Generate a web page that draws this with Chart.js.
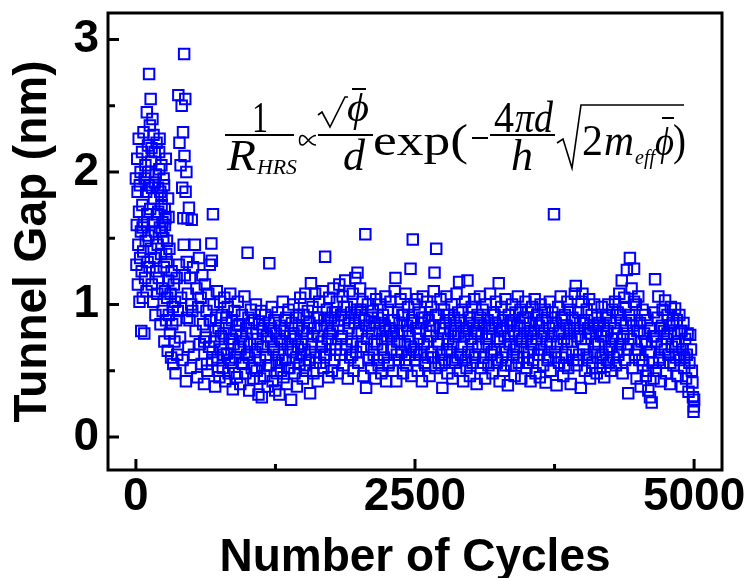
<!DOCTYPE html>
<html>
<head>
<meta charset="utf-8">
<script src="https://cdn.jsdelivr.net/npm/chart.js@4.4.1/dist/chart.umd.min.js"></script>
<style>
  body { margin: 0; background: #fff; }
  #wrap { width: 749px; height: 578px; position: relative; }
</style>
</head>
<body>
<div id="wrap"><canvas id="gapChart"></canvas></div>
<script>
// early cycles: large, scattered gaps
const earlyCycles = [0,5,8,12,15,18,22,25,28,32,35,38,42,45,48,52,55,58,62,65,68,72,75,78,82,85,88,92,95,98,
  102,105,108,112,115,118,122,125,128,132,135,138,142,145,148,152,155,158,162,165,168,172,175,178,182,185,188,192,195,198,
  205,210,215,220,225,230,235,240,245,250,255,260,265,270,275,280,285,290,295,300,305,310,315,320,325,330,335,340,345,350,
  355,360,365,370,375,380,385,390,395,400,405,410,415,418,422,425,428,432,435,438,442,445,448,452,455,458,462,465,470,475,
  480,485,490,495,500,60,110,140,170,200,230,260,
  208,218,228,238,248,258,268,278,288,212,232,252,272,292];
const earlyGap = [1.95,1.30,1.60,2.10,1.85,1.15,1.45,2.25,1.70,1.02,1.90,1.35,2.00,1.55,0.80,1.25,2.15,1.75,1.05,1.40,2.30,1.62,0.78,1.95,1.20,2.05,1.48,1.85,1.10,2.45,
  1.68,1.32,2.20,1.52,1.90,2.74,1.28,2.35,1.72,2.55,1.42,2.08,1.15,1.88,2.40,1.62,1.02,2.28,1.80,1.35,2.15,1.55,0.92,1.98,1.25,2.22,1.68,1.08,1.45,1.88,
  1.20,2.02,1.58,0.85,1.38,1.75,1.12,0.95,1.50,1.28,0.72,1.10,1.65,0.88,1.32,1.05,0.65,1.18,0.92,1.42,0.78,1.08,0.60,1.25,0.85,0.98,0.55,1.15,0.72,1.02,
  0.48,0.88,1.20,0.62,0.95,2.58,1.30,2.22,0.75,2.05,1.05,2.50,1.88,0.58,2.30,1.65,1.45,2.89,2.12,1.22,2.55,1.85,0.42,2.00,1.32,0.90,1.65,1.08,0.68,1.73,
  0.88,1.20,0.52,1.00,1.64,1.58,2.00,2.18,1.92,1.70,1.82,1.60,
  2.15,1.85,2.05,1.62,1.95,1.72,2.10,1.48,1.80,2.25,1.55,1.90,1.38,1.66];

// cycles 500 - 2500
const midCycles = [505,512,520,528,535,542,550,558,565,572,580,588,595,602,610,618,625,632,640,648,655,662,670,676,680,684,690,696,703,710,
  718,725,732,740,748,755,762,770,778,785,792,800,808,815,822,830,838,845,852,860,868,875,882,890,898,905,912,920,928,935,
  942,950,958,965,972,980,988,995,1000,1008,1015,1022,1030,1038,1045,1052,1060,1068,1075,1082,1090,1098,1105,1112,1120,1128,1135,1142,1150,1158,
  1165,1172,1180,1188,1195,1202,1210,1218,1225,1232,1240,1248,1255,1262,1270,1278,1285,1292,1300,1308,1315,1322,1330,1338,1345,1352,1360,1368,1375,1382,
  1390,1398,1405,1412,1420,1428,1435,1442,1450,1458,1465,1472,1480,1488,1495,1502,1510,1518,1525,1532,1540,1548,1555,1560,1568,1575,1582,1590,1598,1605,
  1612,1620,1628,1635,1642,1650,1658,1665,1672,1680,1688,1695,1702,1710,1718,1725,1732,1740,1748,1755,1762,1770,1778,1785,1792,1800,1808,1815,1822,1830,
  1838,1845,1852,1860,1868,1875,1882,1890,1898,1905,1912,1920,1928,1935,1942,1950,1958,1965,1972,1980,1985,1992,2000,2008,2015,2022,2030,2038,2045,2055,
  2062,2070,2078,2085,2092,2100,2108,2115,2122,2130,2138,2145,2152,2160,2168,2175,2182,2190,2198,2205,2212,2220,2228,2235,2242,2250,2258,2265,2272,2280,
  2288,2295,2302,2310,2318,2325,2332,2340,2348,2355,2362,2370,2378,2385,2392,2400,2408,2415,2422,2430,2438,2445,2452,2460,2468,2475,2480,2488,2495];
const midGap = [0.95,1.28,0.62,1.45,0.80,1.12,0.45,0.98,1.35,0.70,1.05,0.55,1.22,0.85,0.40,1.15,0.75,0.95,0.50,1.08,0.68,1.30,0.88,1.46,1.33,0.58,1.68,1.00,0.72,0.38,
  0.90,1.10,0.60,0.82,0.45,1.02,0.66,0.92,0.52,0.78,1.05,0.42,0.86,0.63,0.98,0.48,0.74,1.08,0.56,0.88,0.36,0.70,0.95,0.60,0.80,0.45,1.02,0.68,0.85,0.40,
  0.76,0.92,0.55,0.72,1.06,0.48,0.82,0.62,1.39,0.90,0.35,0.70,0.96,0.52,0.78,0.44,0.88,0.64,1.00,0.50,0.74,0.32,0.85,0.58,0.95,0.30,0.68,0.82,0.46,0.92,
  0.60,0.76,0.38,0.86,1.31,0.54,0.72,0.98,0.42,0.66,0.88,0.35,0.78,0.56,0.94,0.62,0.32,0.84,0.50,0.72,1.02,0.45,0.80,0.58,0.90,0.40,0.70,0.96,0.52,0.76,
  0.28,0.86,0.64,1.00,0.48,0.74,0.90,0.38,0.68,0.84,0.55,1.05,0.62,0.80,0.44,0.92,0.66,1.08,0.50,0.78,0.95,0.58,0.86,0.33,1.16,0.70,0.98,0.48,0.82,1.08,
  0.60,0.90,0.42,0.76,1.02,0.56,0.84,0.68,1.10,0.52,0.88,1.36,0.62,0.96,0.74,0.45,1.05,0.66,0.90,0.50,0.80,1.12,0.58,0.94,0.70,1.02,0.48,0.84,1.15,0.62,
  0.92,0.76,1.06,0.54,0.88,1.18,0.66,0.98,0.44,0.82,1.10,0.60,0.94,0.72,1.08,0.50,0.86,1.20,0.64,0.96,1.24,0.56,0.90,1.12,0.68,0.80,1.02,0.46,0.88,1.53,
  0.37,0.74,1.00,0.58,0.84,1.08,0.52,0.78,0.95,0.62,0.86,0.44,1.04,0.70,0.90,0.54,0.80,1.00,0.48,0.74,0.92,0.60,0.84,1.06,0.42,0.76,0.96,0.56,0.82,1.02,
  0.66,0.88,0.50,0.78,1.10,1.20,0.42,0.72,0.94,0.58,0.86,1.04,0.64,0.80,0.48,0.92,0.70,1.08,0.54,0.84,0.98,0.62,0.76,1.27,0.46,0.88,1.49,0.66,1.00];

// cycles 2500 - 5000
const lateCycles = [2502,2510,2518,2525,2532,2540,2548,2555,2562,2570,2578,2585,2592,2600,2608,2615,2622,2630,2638,2645,2652,2660,2668,2675,2682,2690,2698,2705,2712,2720,
  2728,2735,2745,2752,2760,2768,2775,2782,2790,2798,2805,2812,2820,2828,2835,2842,2850,2858,2865,2872,2880,2888,2895,2902,2910,2918,2925,2932,2940,2948,
  2955,2962,2970,2978,2985,2992,3000,3008,3015,3022,3030,3038,3045,3052,3060,3068,3075,3082,3090,3098,3105,3112,3120,3128,3135,3142,3150,3158,3165,3172,
  3180,3188,3195,3202,3210,3218,3225,3232,3240,3250,3258,3265,3272,3280,3288,3295,3302,3310,3318,3325,3332,3340,3348,3355,3362,3370,3378,3385,3392,3400,
  3408,3415,3422,3430,3438,3445,3452,3460,3468,3475,3482,3490,3498,3505,3512,3520,3528,3535,3542,3550,3558,3565,3572,3580,3588,3595,3602,3610,3618,3625,
  3632,3640,3648,3655,3662,3670,3678,3685,3692,3700,3708,3715,3722,3730,3745,3752,3760,3768,3775,3782,3790,3798,3805,3812,3820,3828,3835,3842,3850,3858,
  3865,3872,3880,3888,3895,3902,3910,3918,3925,3932,3940,3948,3955,3962,3970,3978,3985,3992,4000,4008,4015,4022,4030,4038,4045,4052,4060,4068,4075,4082,
  4090,4098,4105,4112,4120,4128,4135,4142,4150,4158,4165,4172,4180,4188,4195,4202,4210,4218,4225,4232,4240,4248,4255,4262,4270,4278,4285,4292,4300,4308,
  4315,4322,4330,4338,4345,4352,4360,4368,4375,4382,4390,4398,4405,4410,4418,4425,4432,4440,4448,4455,4462,4470,4478,4485,4492,4500,4508,4515,4522,4530,
  4538,4545,4552,4560,4568,4575,4582,4590,4598,4605,4612,4620,4628,4635,4642,4650,4658,4665,4672,4680,4688,4695,4702,4710,4718,4725,4732,4740,4748,4755,
  4762,4770,4778,4785,4792,4800,4808,4815,4822,4830,4838,4845,4852,4860,4868,4875,4882,4890,4898,4905,4912,4920,4928,4935,4942,4950,4958,4965,4972,4980,
  4985,4990,4995,4998,5000];
const lateGap = [0.58,0.82,1.04,0.50,0.74,0.94,0.62,0.86,0.42,1.06,0.70,0.90,0.54,0.80,1.02,0.60,0.88,0.46,0.76,0.98,0.64,0.84,1.10,1.24,0.52,1.42,0.72,0.92,0.56,0.82,
  1.04,0.62,0.37,0.78,0.96,0.58,0.86,1.06,0.48,0.74,0.92,0.64,0.80,1.00,0.44,0.70,0.90,0.56,0.84,1.08,0.60,0.78,1.17,0.50,0.88,0.68,0.96,0.42,0.76,1.02,
  0.58,0.82,1.18,0.64,0.90,0.46,0.74,0.98,0.56,0.84,1.04,0.62,0.80,0.40,0.92,0.68,0.86,1.06,0.52,0.78,0.96,0.60,0.84,0.44,1.00,0.70,0.88,0.54,0.76,1.08,
  0.62,0.82,0.48,0.94,0.66,0.86,1.02,0.56,0.74,1.16,0.42,0.80,0.98,0.60,0.88,0.50,0.76,1.04,0.64,0.84,0.39,0.92,0.70,0.86,0.54,1.00,0.62,0.80,0.46,0.94,
  0.68,0.84,1.06,0.56,0.78,0.96,0.44,0.72,0.90,0.60,0.82,1.02,0.52,0.76,0.94,0.64,0.86,0.42,0.70,0.98,0.58,0.80,1.04,0.48,0.74,0.92,0.62,0.84,0.45,1.00,
  0.66,0.88,0.54,0.78,0.96,0.41,0.72,0.90,0.60,0.82,1.02,0.50,0.76,0.94,1.68,0.64,0.86,0.39,0.70,0.98,0.56,0.80,1.06,0.60,0.88,0.46,0.74,0.92,0.62,0.84,
  1.02,0.52,0.78,0.96,0.40,0.72,0.90,0.58,0.82,1.08,1.14,0.54,0.76,0.94,0.62,0.86,0.37,1.02,1.08,0.66,0.88,0.50,0.74,0.96,0.60,0.82,1.04,0.44,0.78,0.92,
  0.56,0.84,1.00,0.64,0.80,0.48,0.90,0.70,0.86,0.52,0.76,0.98,0.62,0.84,0.45,0.72,0.92,0.58,0.80,1.00,0.66,0.86,0.50,0.74,0.96,0.60,0.82,1.02,0.54,0.78,
  0.94,0.62,1.08,0.70,0.88,1.18,0.48,0.76,1.05,0.58,0.86,1.26,0.66,0.33,0.92,1.35,0.74,1.12,0.52,0.84,1.27,0.62,1.00,0.44,0.80,1.06,0.58,0.86,0.38,0.72,
  0.96,0.54,0.78,0.92,0.46,0.70,0.88,0.35,0.64,0.30,0.82,0.26,0.56,0.76,0.94,1.19,0.50,0.72,0.90,1.06,0.60,0.82,0.42,0.70,0.96,0.56,0.80,1.03,0.48,0.74,
  0.92,0.62,0.84,0.40,0.98,0.68,0.86,0.54,0.78,0.97,0.60,0.88,0.46,0.72,0.92,0.58,0.80,0.38,0.66,0.86,0.52,0.74,0.44,0.62,0.78,0.34,0.56,0.77,0.66,0.50,
  0.41,0.30,0.19,0.23,0.28];

// extra points in the dense core of the band
const coreCycles = [612,637,662,687,712,737,762,787,812,837,862,887,912,937,962,987,1012,1037,1062,1087,1112,1137,1162,1187,1212,1237,1262,1287,1312,1337,
  1362,1387,1412,1437,1462,1487,1512,1537,1562,1587,1612,1637,1662,1687,1712,1737,1762,1787,1812,1837,1862,1887,1912,1937,1962,1987,2012,2037,2062,2087,
  2112,2137,2162,2187,2212,2237,2262,2287,2312,2337,2362,2387,2412,2437,2462,2487,2512,2537,2562,2587,2612,2637,2662,2687,2712,2737,2762,2787,2812,2837,
  2862,2887,2912,2937,2962,2987,3012,3037,3062,3087,3112,3137,3162,3187,3212,3237,3262,3287,3312,3337,3362,3387,3412,3437,3462,3487,3512,3537,3562,3587,
  3612,3637,3662,3687,3712,3737,3762,3787,3812,3837,3862,3887,3912,3937,3962,3987,4012,4037,4062,4087,4112,4137,4162,4187,4212,4237,4262,4287,4312,4337,
  4362,4387,4412,4437,4462,4487,4512,4537,4562,4587,4612,4637,4662,4687,4712,4737,4762,4787,4812,4837,4862,4887,4912];
const coreGap = [0.72,0.55,0.88,0.64,0.80,0.50,0.76,0.62,0.90,0.58,0.74,0.48,0.84,0.66,0.56,0.78,0.60,0.86,0.52,0.70,0.44,0.80,0.62,0.54,0.82,0.68,0.48,0.74,0.58,0.88,
  0.52,0.66,0.78,0.60,0.92,0.70,0.54,0.82,0.64,0.76,0.56,0.90,0.72,0.62,0.84,0.78,0.94,0.66,0.88,0.74,0.98,0.70,0.86,0.62,0.92,0.78,0.96,0.68,0.84,0.60,
  0.90,0.72,0.58,0.86,0.66,0.80,0.54,0.76,0.88,0.62,0.72,0.92,0.58,0.80,0.68,0.86,0.64,0.78,0.90,0.56,0.72,0.84,0.60,0.92,0.70,0.54,0.82,0.66,0.88,0.58,
  0.76,0.94,0.62,0.80,0.52,0.86,0.70,0.60,0.78,0.90,0.56,0.74,0.84,0.64,0.92,0.58,0.72,0.82,0.54,0.76,0.88,0.66,0.60,0.84,0.74,0.90,0.56,0.80,0.66,0.86,
  0.62,0.76,0.94,0.58,0.70,0.84,0.60,0.78,0.90,0.54,0.72,0.82,0.64,0.88,0.58,0.74,0.86,0.62,0.78,0.52,0.70,0.84,0.60,0.76,0.90,0.56,0.68,0.82,0.64,0.92,
  0.74,0.98,0.70,0.88,1.02,0.66,0.80,0.58,0.72,0.50,0.64,0.44,0.76,0.58,0.84,0.66,0.78,0.56,0.88,0.70,0.62,0.80,0.60];

const xTicks = [0, 2500, 5000];
const xMinorTicks = [1250, 3750];
const yTicks = [0, 1, 2, 3];
const yMinorTicks = [0.5, 1.5, 2.5];

const allCycles = earlyCycles.concat(midCycles, coreCycles, lateCycles);
const allGap = earlyGap.concat(midGap, coreGap, lateGap);
const points = allCycles.map((c, i) => ({ x: c, y: allGap[i] }));

const boldFont = { family: "'Liberation Sans', Arial, sans-serif", size: 46, weight: 'bold', lineHeight: 1 };
const serif = "'Liberation Serif', 'Times New Roman', serif";

// frame, inward ticks and the formula
const framePlugin = {
  id: 'frame',
  afterDraw(chart) {
    const ctx = chart.ctx;
    const a = chart.chartArea;
    const xs = chart.scales.x;
    const ys = chart.scales.y;
    ctx.save();
    ctx.strokeStyle = '#000';
    ctx.lineWidth = 3;
    ctx.strokeRect(a.left, a.top, a.right - a.left, a.bottom - a.top);

    ctx.beginPath();
    xTicks.forEach(v => { const p = xs.getPixelForValue(v); ctx.moveTo(p, a.bottom); ctx.lineTo(p, a.bottom - 11); });
    xMinorTicks.forEach(v => { const p = xs.getPixelForValue(v); ctx.moveTo(p, a.bottom); ctx.lineTo(p, a.bottom - 6); });
    yTicks.forEach(v => { const p = ys.getPixelForValue(v); ctx.moveTo(a.left, p); ctx.lineTo(a.left + 11, p); });
    yMinorTicks.forEach(v => { const p = ys.getPixelForValue(v); ctx.moveTo(a.left, p); ctx.lineTo(a.left + 7, p); });
    ctx.stroke();
    drawFormula(ctx);
    ctx.restore();
  }
};

// text squeezed or stretched to a given width
function txt(ctx, str, x, y, font, w) {
  ctx.font = font;
  const m = ctx.measureText(str).width;
  ctx.save();
  ctx.translate(x, y);
  ctx.scale(w / m, 1);
  ctx.fillText(str, 0, 0);
  ctx.restore();
}

function drawFormula(ctx) {
  ctx.fillStyle = '#000';
  ctx.strokeStyle = '#000';
  ctx.textBaseline = 'alphabetic';
  ctx.textAlign = 'left';

  // fraction bars
  ctx.lineWidth = 2;
  ctx.beginPath();
  ctx.moveTo(225, 135); ctx.lineTo(294, 135);
  ctx.moveTo(318, 135); ctx.lineTo(373, 135);
  ctx.moveTo(490, 135); ctx.lineTo(555, 135);
  ctx.stroke();

  txt(ctx, '1', 252, 132, `44px ${serif}`, 16);
  txt(ctx, 'R', 227, 170, `italic 44px ${serif}`, 29);
  txt(ctx, 'HRS', 257, 174, `italic 22px ${serif}`, 40);

  // proportional-to sign
  ctx.lineWidth = 1.5;
  ctx.beginPath();
  ctx.moveTo(316, 135.5);
  ctx.bezierCurveTo(309.5, 135.5, 306.5, 145, 302.5, 145);
  ctx.bezierCurveTo(300.5, 145, 299.5, 142.5, 299.5, 140.2);
  ctx.bezierCurveTo(299.5, 138, 300.5, 135.5, 302.5, 135.5);
  ctx.bezierCurveTo(306.5, 135.5, 309.5, 145, 316, 145);
  ctx.stroke();

  // small root over phi
  ctx.lineWidth = 1.6;
  ctx.beginPath();
  ctx.moveTo(318, 115); ctx.lineTo(322, 112); ctx.lineTo(330, 127); ctx.lineTo(345, 97); ctx.lineTo(348, 97);
  ctx.stroke();
  txt(ctx, '\u03D5', 347, 121, `italic 40px ${serif}`, 22);
  ctx.fillRect(352, 88, 14, 2);
  txt(ctx, 'd', 343, 170, `italic 44px ${serif}`, 22);

  txt(ctx, 'exp(', 373, 155, `44px ${serif}`, 95);
  ctx.fillRect(472, 137, 16, 2);
  txt(ctx, '4', 494, 132, `44px ${serif}`, 20);
  txt(ctx, '\u03C0d', 515, 132, `italic 44px ${serif}`, 38);
  txt(ctx, 'h', 511, 170, `italic 44px ${serif}`, 22);

  // big root
  ctx.lineWidth = 1.6;
  ctx.beginPath();
  ctx.moveTo(557, 143); ctx.lineTo(563, 139); ctx.lineTo(572, 168); ctx.lineTo(581, 105); ctx.lineTo(684, 105);
  ctx.stroke();
  txt(ctx, '2', 582, 155, `44px ${serif}`, 21);
  txt(ctx, 'm', 604, 155, `italic 44px ${serif}`, 30);
  txt(ctx, 'eff', 635, 164, `italic 20px ${serif}`, 20);
  txt(ctx, '\u03D5', 655, 155, `italic 40px ${serif}`, 19);
  ctx.fillRect(662, 117, 12, 2);
  txt(ctx, ')', 673, 155, `44px ${serif}`, 13);
}

new Chart(document.getElementById('gapChart'), {
  type: 'scatter',
  data: {
    datasets: [{
      data: points,
      pointStyle: 'rect',
      pointRadius: 7.4,
      pointBorderWidth: 2,
      borderColor: '#0000ff',
      backgroundColor: 'rgba(0,0,0,0)'
    }]
  },
  options: {
    responsive: true,
    maintainAspectRatio: false,
    animation: false,
    layout: { padding: { top: 13, right: 27, left: 0, bottom: 0 } },
    plugins: { legend: { display: false }, tooltip: { enabled: false } },
    scales: {
      x: {
        type: 'linear',
        min: -250,
        max: 5250,
        afterBuildTicks: s => { s.ticks = xTicks.map(v => ({ value: v })); },
        afterFit: s => { s.height = 108; s.paddingLeft = 0; s.paddingRight = 0; },
        grid: { display: false, drawTicks: false },
        border: { display: false },
        ticks: { color: '#000', font: boldFont, padding: 4, maxRotation: 0, callback: v => String(v) },
        title: { display: true, text: 'Number of Cycles', color: '#000', font: boldFont, padding: { top: 0, bottom: -3 } }
      },
      y: {
        type: 'linear',
        min: -0.25,
        max: 3.2,
        afterBuildTicks: s => { s.ticks = yTicks.map(v => ({ value: v })); },
        afterFit: s => { s.width = 108; s.paddingTop = 0; s.paddingBottom = 0; },
        grid: { display: false, drawTicks: false },
        border: { display: false },
        ticks: { color: '#000', font: boldFont, padding: 9, callback: v => String(v) },
        title: { display: true, text: 'Tunnel Gap (nm)', color: '#000', font: boldFont, padding: { top: 10, bottom: 0 } }
      }
    }
  },
  plugins: [framePlugin]
});
</script>
</body>
</html>
